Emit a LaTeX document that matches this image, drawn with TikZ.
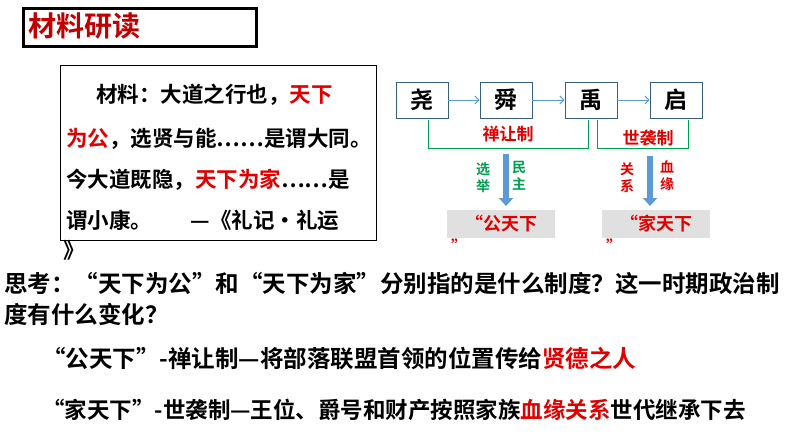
\documentclass[tikz,border=0pt]{standalone}
\usepackage{fontspec}
\setmainfont{Noto Sans CJK SC Bold}
\usetikzlibrary{arrows.meta}
\definecolor{dred}{HTML}{C00000}
\definecolor{rred}{HTML}{E00000}
\definecolor{gr}{HTML}{00A050}
\definecolor{bl}{HTML}{5B9BD5}
\tikzset{x=1pt,y=-1pt,
 namebox/.style={draw=bl!60!black,line width=0.8pt,minimum width=52pt,minimum height=36pt,font=\fontsize{23}{23}\selectfont},
 flow/.style={-{Straight Barb[length=4pt]},bl,line width=1pt},
 brack/.style={draw=gr,line width=1pt},
 bigarrow/.style={-{Triangle[length=8pt,width=14pt]},bl,line width=6pt},
 vt/.style={font=\fontsize{14}{17}\selectfont,align=center},
 graybox/.style={fill=black!12,minimum width=108pt,minimum height=28pt,font=\fontsize{18}{18}\selectfont,text=rred},
 txt/.style={anchor=west,font=\fontsize{23.5}{23}\selectfont,inner sep=0}}
\begin{document}
\begin{tikzpicture}
\useasboundingbox (0,0) rectangle (794,447);
\node[draw,line width=3pt,minimum width=233pt,minimum height=38pt,anchor=north west,inner sep=0] (title) at (22,7) {};
\node[anchor=west,text=dred,font=\fontsize{28}{28}\selectfont,inner sep=0] (tt) at (28,26) {材料研读};
\node[draw,line width=1pt,minimum width=316pt,minimum height=175pt,anchor=north west] (mat) at (60,65) {};
\begin{scope}[every node/.style={txt,font=\fontsize{21.5}{20}\selectfont}]
\node (l1) at (96,95) {材料：大道之行也，\textcolor{rred}{天下}};
\node (l2) at (66,139) {\textcolor{rred}{为公}，选贤与能……是谓大同。};
\node (l3) at (66,180) {今大道既隐，\textcolor{rred}{天下为家}……是};
\node (l4) at (66,220) {谓小康。\hspace{1.8em}—《礼记·礼运};
\node (l5) at (63,250) {》};
\end{scope}
\node[namebox] (a) at (422,100) {尧};
\node[namebox] (b) at (506,100) {舜};
\node[namebox] (c) at (591,100) {禹};
\node[namebox] (d) at (676,100) {启};
\draw[flow] (a) -- (b); \draw[flow] (b) -- (c); \draw[flow] (c) -- (d);
\draw[brack] (428,120) -- (428,148) -- (588,148) -- (588,120);
\draw[brack] (597,120) -- (597,148) -- (688,148) -- (688,120);
\node[text=rred,font=\fontsize{17}{17}\selectfont] (s1) at (508,134) {禅让制};
\node[text=rred,font=\fontsize{17}{17}\selectfont] (s2) at (648,138) {世袭制};
\node[graybox] (g1) at (501,224) {“公天下};
\node[graybox] (g2) at (656,224) {“家天下};
\coordinate (t1) at (506,154); \coordinate (t2) at (650,156);
\draw[bigarrow] (t1) -- (506,206);
\draw[bigarrow] (t2) -- (650,206);
\node[vt,text=gr] (v1) at (483,178) {选\\举};
\node[vt,text=gr] (v2) at (519,176) {民\\主};
\node[vt,text=rred] (v3) at (627,178) {关\\系};
\node[vt,text=rred] (v4) at (667,176) {血\\缘};
\node[text=rred,font=\fontsize{16}{16}\selectfont] (q1) at (459,246) {”};
\node[text=rred,font=\fontsize{16}{16}\selectfont] (q2) at (614,246) {”};
\begin{scope}[every node/.style={txt}]
\node (p1) at (4,283) {思考：“天下为公”和“天下为家”分别指的是什么制度？这一时期政治制};
\node (p2) at (4,314) {度有什么变化？};
\node (p3) at (42,359) {“公天下”-禅让制—将部落联盟首领的位置传给\textcolor{rred}{贤德之人}};
\node[font=\fontsize{22.5}{23}\selectfont] (p4) at (42,410) {“家天下”-世袭制—王位、爵号和财产按照家族\textcolor{rred}{血缘关系}世代继承下去};
\end{scope}
\end{tikzpicture}
\end{document}
